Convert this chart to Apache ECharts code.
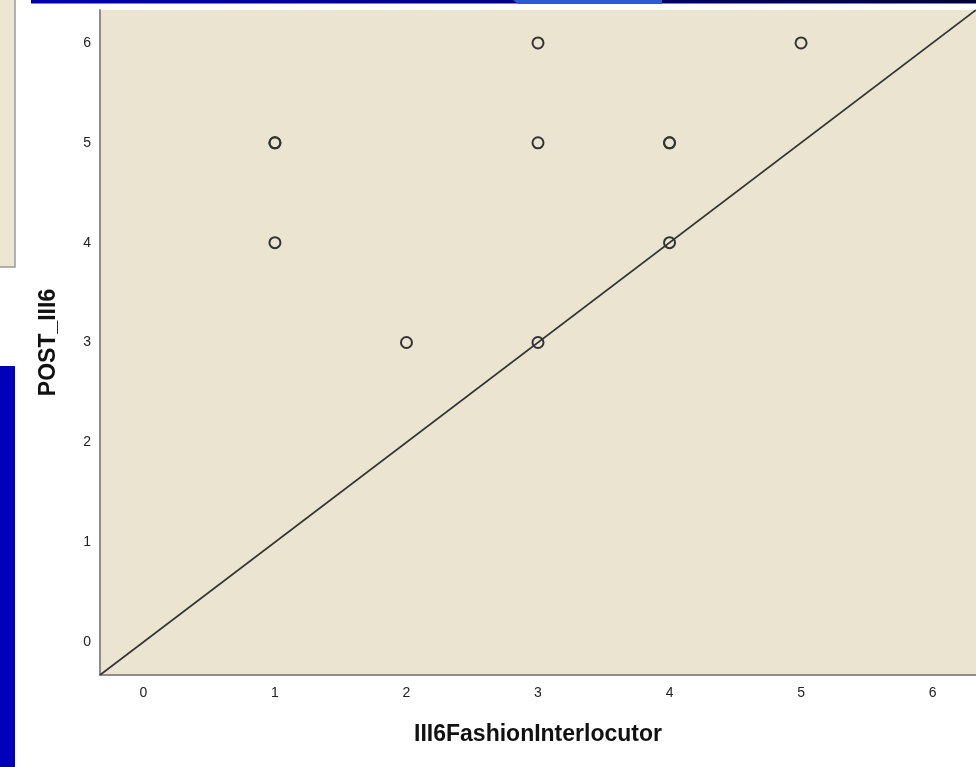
<!DOCTYPE html>
<html>
<head>
<meta charset="utf-8">
<script src="https://cdn.jsdelivr.net/npm/echarts@6/dist/echarts.min.js"></script>
<style>
  html, body { margin: 0; padding: 0; background: #ffffff; }
  #chart { width: 976px; height: 767px; }
</style>
</head>
<body>
<div id="chart"></div>
<script>
// Observed pairs (x = III6FashionInterlocutor, y = POST_III6); repeated pairs overlap
const xValues = [1, 1, 1, 2, 3, 3, 3, 4, 4, 4, 5];
const yValues = [5, 5, 4, 3, 6, 5, 3, 5, 5, 4, 6];
// Axis extent and tick labels
const axisMin = -0.33;
const axisMax = 6.33;
const tickValues = [0, 1, 2, 3, 4, 5, 6];
// Reference line y = x across the whole plot
const refLineX = [-0.33, 6.33];
const refLineY = [-0.33, 6.33];

const points = xValues.map((x, i) => [x, yValues[i]]);
const refLine = refLineX.map((x, i) => [x, refLineY[i]]);

const chart = echarts.init(document.getElementById('chart'), null, { renderer: 'canvas' });

const labelFont = { color: '#222', fontSize: 14, fontFamily: 'Liberation Sans, Arial, sans-serif' };
const nameFont = { color: '#111', fontSize: 23, fontWeight: 'bold', fontFamily: 'Liberation Sans, Arial, sans-serif' };

chart.setOption({
  animation: false,
  backgroundColor: '#ffffff',
  graphic: [
    // slide decorations around the chart
    { type: 'rect', shape: { x: 31, y: 0, width: 945, height: 3.5 }, z: 10,
      style: { fill: new echarts.graphic.LinearGradient(0, 0, 1, 0, [
        { offset: 0, color: '#0000a8' }, { offset: 0.5, color: '#000080' }, { offset: 1, color: '#000040' }]) } },
    { type: 'polygon', shape: { points: [[513, 0], [662, 0], [662, 4], [518, 4]] }, z: 11,
      style: { fill: '#2a5ad6' } },
    { type: 'rect', shape: { x: 0, y: 0, width: 15, height: 267 }, z: 10,
      style: { fill: '#ece6d2' } },
    { type: 'polyline', shape: { points: [[15, 0], [15, 267], [0, 267]] }, z: 11,
      style: { stroke: '#9a9a9a', lineWidth: 1.5, fill: null } },
    { type: 'rect', shape: { x: 0, y: 366, width: 15, height: 401 }, z: 10,
      style: { fill: '#0000bb' } }
  ],
  grid: {
    left: 100, top: 10, width: 878, height: 665,
    show: true, backgroundColor: '#eae4d0', borderWidth: 0
  },
  xAxis: {
    type: 'value', min: axisMin, max: axisMax,
    name: 'III6FashionInterlocutor', nameLocation: 'middle', nameGap: 48,
    nameTextStyle: nameFont,
    axisLine: { show: true, onZero: false, lineStyle: { color: '#8c8c8c', width: 2 } },
    axisTick: { show: false },
    splitLine: { show: false },
    axisLabel: Object.assign({ customValues: tickValues, margin: 11 }, labelFont)
  },
  yAxis: {
    type: 'value', min: axisMin, max: axisMax,
    name: 'POST_III6', nameLocation: 'middle', nameGap: 40, nameRotate: 90,
    nameTextStyle: nameFont,
    axisLine: { show: true, onZero: false, lineStyle: { color: '#8c8c8c', width: 2 } },
    axisTick: { show: false },
    splitLine: { show: false },
    axisLabel: Object.assign({ customValues: tickValues, margin: 9 }, labelFont)
  },
  series: [
    {
      type: 'line', data: refLine, symbol: 'none', silent: true,
      lineStyle: { color: '#333', width: 1.6 }, z: 2
    },
    {
      type: 'scatter', data: points, symbol: 'circle', symbolSize: 11,
      itemStyle: { color: 'rgba(0,0,0,0)', borderColor: '#333', borderWidth: 2, opacity: 1 },
      z: 3
    }
  ]
});
</script>
</body>
</html>
